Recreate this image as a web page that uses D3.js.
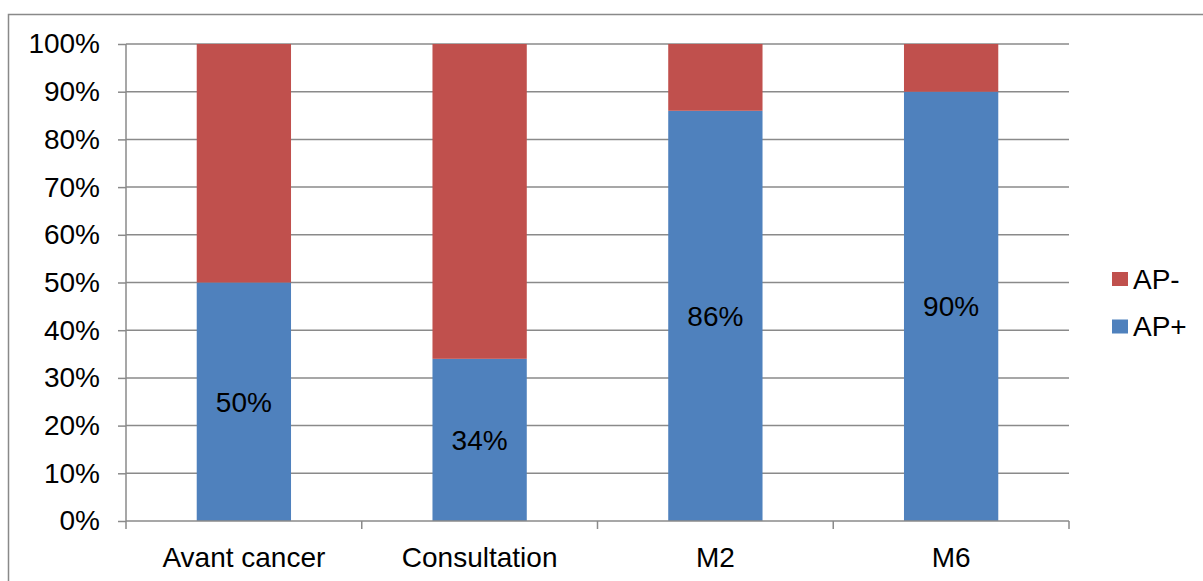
<!DOCTYPE html>
<html>
<head>
<meta charset="utf-8">
<script src="https://cdn.jsdelivr.net/npm/d3@7"></script>
<style>
  html, body { margin: 0; padding: 0; background: #fff; }
  svg { display: block; font-family: "Liberation Sans", Arial, sans-serif; }
</style>
</head>
<body>
<svg id="chart" width="1203" height="581"></svg>
<script>
// Share of AP+ / AP- responses at each time point (percent)
const categories = ["Avant cancer", "Consultation", "M2", "M6"];
const apPlus = [50, 34, 86, 90];
const apMinus = [50, 66, 14, 10];
const yTicks = [0, 10, 20, 30, 40, 50, 60, 70, 80, 90, 100];
const seriesNames = ["AP+", "AP-"];
const seriesColors = ["#4F81BD", "#C0504D"];

const svg = d3.select("#chart");
const W = 1203, H = 581;
const plot = { left: 126, right: 1069, top: 44, bottom: 521 };
const fontSize = "28px";

// outer chart frame
svg.append("rect")
  .attr("x", 8.5).attr("y", 14.5)
  .attr("width", W + 20).attr("height", H + 20)
  .attr("fill", "#fff").attr("stroke", "#898989").attr("stroke-width", 1.5);

const x = d3.scaleBand().domain(categories).range([plot.left, plot.right]).paddingInner(0.6).paddingOuter(0.3);
const xCat = d3.scaleBand().domain(categories).range([plot.left, plot.right]);
const y = d3.scaleLinear().domain([0, 100]).range([plot.bottom, plot.top]);

const gridColor = "#8a8a8a";

// horizontal gridlines with left tick marks
const yAxis = d3.axisLeft(y).tickValues(yTicks).tickFormat(d => d + "%").tickSize(8).tickPadding(18);
const gy = svg.append("g").attr("transform", `translate(${plot.left},0)`).call(yAxis);
gy.select(".domain").remove();
gy.selectAll(".tick line").attr("stroke", gridColor).attr("stroke-width", 1.5);
gy.selectAll(".tick text").attr("fill", "#000").style("font-size", fontSize)
  .attr("font-family", "Liberation Sans, Arial, sans-serif");

svg.append("g").selectAll("line.grid").data(yTicks.filter(d => d > 0)).join("line")
  .attr("x1", plot.left).attr("x2", plot.right)
  .attr("y1", d => y(d)).attr("y2", d => y(d))
  .attr("stroke", gridColor).attr("stroke-width", 1.5);

// stacked bars
const rows = categories.map((c, i) => ({ cat: c, "AP+": apPlus[i], "AP-": apMinus[i] }));
const stacked = d3.stack().keys(seriesNames)(rows);
const color = d3.scaleOrdinal().domain(seriesNames).range(seriesColors);

svg.append("g").selectAll("g").data(stacked).join("g")
  .attr("fill", s => color(s.key))
  .selectAll("rect").data(s => s).join("rect")
  .attr("x", d => x(d.data.cat))
  .attr("width", x.bandwidth())
  .attr("y", d => y(d[1]))
  .attr("height", d => y(d[0]) - y(d[1]));

// value labels on AP+ segments
svg.append("g").selectAll("text").data(stacked[0]).join("text")
  .attr("x", d => x(d.data.cat) + x.bandwidth() / 2)
  .attr("y", d => (y(d[0]) + y(d[1])) / 2)
  .attr("dy", "0.35em")
  .attr("text-anchor", "middle")
  .style("font-size", fontSize)
  .text(d => d.data["AP+"] + "%");

// vertical axis line
svg.append("line")
  .attr("x1", plot.left).attr("x2", plot.left)
  .attr("y1", plot.top).attr("y2", plot.bottom)
  .attr("stroke", gridColor).attr("stroke-width", 1.5);

// category axis
const xAxis = d3.axisBottom(xCat).tickSize(0).tickPadding(26);
const gx = svg.append("g").attr("transform", `translate(0,${plot.bottom})`).call(xAxis);
gx.select(".domain").attr("stroke", gridColor).attr("stroke-width", 1.5)
  .attr("d", `M${plot.left},0H${plot.right}`);
gx.selectAll(".tick text").attr("fill", "#000").style("font-size", fontSize)
  .attr("font-family", "Liberation Sans, Arial, sans-serif");
// category boundary tick marks
const bounds = categories.map(c => xCat(c)).concat([plot.right]);
gx.selectAll("line.bound").data(bounds).join("line")
  .attr("x1", d => d).attr("x2", d => d)
  .attr("y1", 0).attr("y2", 8)
  .attr("stroke", gridColor).attr("stroke-width", 1.5);

// legend
const legendItems = ["AP-", "AP+"];
const lg = svg.append("g").selectAll("g").data(legendItems).join("g")
  .attr("transform", (d, i) => `translate(1112,${272 + i * 47.5})`);
lg.append("rect").attr("width", 16).attr("height", 14).attr("fill", d => color(d));
lg.append("text").attr("x", 21).attr("y", 7).attr("dy", "0.35em")
  .style("font-size", fontSize).text(d => d);
</script>
</body>
</html>
